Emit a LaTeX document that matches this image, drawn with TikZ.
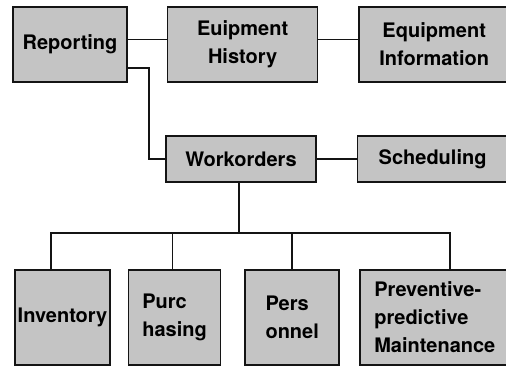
\documentclass[tikz,border=0pt]{standalone}
\usepackage{fontspec}
\setmainfont{TeX Gyre Heros}
\usetikzlibrary{positioning}
\definecolor{boxgray}{RGB}{196,196,196}
\definecolor{mydark}{RGB}{20,20,20}
\tikzset{
  modblock/.style={rectangle, draw=mydark, fill=boxgray, line width=1.6pt,
    align=center, inner sep=2pt, font=\fontsize{20}{28}\selectfont\bfseries},
  topblock/.style={modblock, minimum width=150pt, minimum height=75pt},
  midblock/.style={modblock, minimum width=150pt, minimum height=46pt},
  lowblock/.style={modblock, align=left, minimum height=95pt},
  line/.style={line width=1.5pt, color=mydark}
}

\begin{document}
\begin{tikzpicture}[x=1pt, y=-1pt]
  \useasboundingbox (0,0) rectangle (506,372);

  % Top row
  \node[modblock, minimum width=114pt, minimum height=75pt] (rep) at (70,44.5) {Reporting};
  \node[topblock, right=39pt of rep] (hist) {Euipment\\History};
  \node[topblock, right=40pt of hist] (info) {Equipment\\Information};

  % Middle row
  \node[midblock] (wo) at (241,159) {Workorders};
  \node[midblock, right=40pt of wo] (sched) {Scheduling};

  % Bottom row
  \node[lowblock, align=center, minimum width=95pt] (inv) at (62.5,317.5) {Inventory};
  \node[lowblock, minimum width=92pt, right=17pt of inv] (purc) {Purc\\hasing};
  \node[lowblock, minimum width=94pt, right=23pt of purc] (pers) {Pers\\onnel};
  \node[lowblock, minimum width=150pt, right=19pt of pers] (prev) {Preventive-\\predictive\\Maintenance};

  % Connectors
  \draw[line] ([yshift=5pt]rep.east) -- ([yshift=5pt]hist.west);
  \draw[line] ([yshift=5pt]hist.east) -- ([yshift=5pt]info.west);
  \draw[line] ([yshift=-23.5pt]rep.east) -- ++(21,0) |- (wo.west);
  \draw[line] (wo) -- (sched);

  % Bus to lower modules
  \coordinate (bus) at (239,233);
  \draw[line] ([xshift=-2pt]wo.south) -- (bus);
  \draw[line] ([xshift=-11.5pt]inv.north) |- (bus) -| ([xshift=15pt]prev.north);
  \draw[line] ([xshift=-2pt]purc.north) |- (bus);
  \draw[line] (pers.north) |- (bus);
\end{tikzpicture}
\end{document}
